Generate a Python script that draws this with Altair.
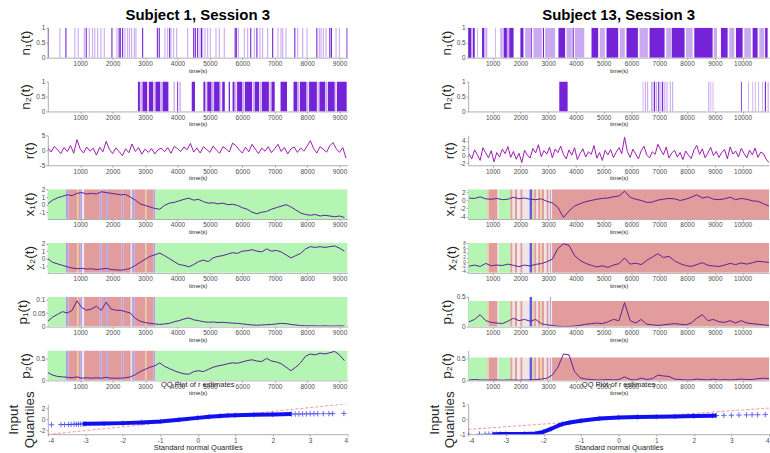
import altair as alt
import pandas as pd

FONT = "Liberation Sans"
LINE = "#5b2296"
RLINE = "#9d1cb0"
DARK = "#7423d8"
LIGHT = "#c9aaf0"
BAND = {"g": "#b4f5b4", "r": "#e29c9c", "l": "#b2a2e6", "w": "#efe7e7", "y": "#e6d2a8", "b": "#5b5be8"}

# ---------------- time grids ----------------
TL = list(range(0, 9151, 150))      # left smooth series
TLR = list(range(0, 9201, 100))     # left r(t)
TR = list(range(150, 10951, 200))   # right smooth series
TRR = list(range(150, 10951, 100))  # right r(t)

XT_L = [1000, 2000, 3000, 4000, 5000, 6000, 7000, 8000, 9000]
XT_R = [1000, 2000, 3000, 4000, 5000, 6000, 7000, 8000, 9000, 10000]
XDOM_L = [0, 9250]
XDOM_R = [120, 10950]

# ---------------- n1 / n2 ----------------
N1L_t = [0, 373, 559, 836, 939, 1124, 1186, 1279, 1382, 1450, 1536, 1639, 1742, 1978, 2133, 2200, 2236, 2308,
         2380, 2462, 2520, 2585, 2668, 2719, 2925, 3380, 3439, 3614, 3697, 3760, 3800, 3882, 3975, 4314, 4500,
         4551, 4623, 4695, 4740, 4777, 4849, 4931, 5013, 5188, 5291, 5445, 5780, 5816, 5878, 6063, 6166, 6260,
         6371, 6450, 6546, 6628, 6782, 6937, 7100, 7194, 7245, 7348, 7620, 7709, 7863, 7997, 8300, 8378, 8429,
         8500, 8584, 8700, 8750, 8892, 8995, 9232]
N1L_k = ["d", "l", "d", "l", "l", "l", "d", "l", "l", "l", "l", "l", "l", "d", "l", "d", "d", "d",
         "l", "l", "l", "l", "l", "l", "d", "d", "d", "l", "l", "d", "l", "l", "l", "l", "d",
         "d", "d", "l", "d", "l", "l", "l", "l", "l", "l", "l", "d", "d", "l", "l", "l", "d",
         "l", "d", "l", "l", "l", "d", "l", "l", "l", "l", "d", "l", "l", "l", "d", "l", "l",
         "l", "l", "d", "d", "l", "l", "d"]

N2L_s = [2780, 2850, 2920, 3070, 3120, 3260, 3320, 3480, 3540, 3880, 3990, 4060, 4440, 4800, 4870, 4920, 5060,
         5130, 5320, 5380, 5580, 5700, 5780, 5840, 6010, 6080, 6320, 6380, 6540, 6600, 6840, 6900, 7180, 7580,
         7720, 7780, 8000, 8060, 8320, 8380, 8580, 8640, 8870, 8920]
N2L_e = [2840, 2900, 3060, 3100, 3250, 3300, 3470, 3520, 3720, 3920, 4020, 4100, 4540, 4860, 4900, 5050, 5120,
         5300, 5350, 5460, 5620, 5760, 5820, 6000, 6060, 6300, 6360, 6520, 6580, 6820, 6880, 7000, 7380, 7700,
         7760, 7980, 8040, 8300, 8360, 8560, 8620, 8850, 8900, 9220]
N2L_k = ["d", "l", "d", "l", "d", "l", "d", "l", "d", "l", "d", "l", "d", "d", "l", "d", "l",
         "d", "l", "d", "d", "d", "l", "d", "l", "d", "l", "d", "l", "d", "l", "d", "d", "d",
         "l", "d", "l", "d", "l", "d", "l", "d", "l", "d"]

N1R_s = [117, 284, 440, 620, 740, 1090, 1275, 1395, 1515, 1600, 2000, 2170, 2370, 2470, 2810, 2890, 3370, 3660,
         3880, 3960, 4560, 4860, 5100, 5580, 5820, 6290, 6650, 7250, 7450, 7960, 8260, 8960, 9220, 9520, 9760,
         10060, 10360, 10600, 10810]
N1R_e = [236, 356, 470, 703, 810, 1120, 1360, 1515, 1600, 1755, 2110, 2350, 2410, 2770, 2850, 3250, 3610, 3850,
         3920, 4300, 4800, 5040, 5520, 5760, 6230, 6590, 7190, 7430, 7910, 8200, 8920, 9080, 9460, 9700, 10000,
         10300, 10540, 10780, 10900]
N1R_k = ["d", "d", "l", "d", "l", "l", "l", "d", "l", "d", "d", "l", "d", "l", "d", "l", "d", "l",
         "d", "l", "d", "l", "d", "l", "d", "l", "d", "l", "d", "l", "d", "l", "d", "l", "d",
         "l", "d", "l", "d"]

N2R_s = [3400, 6400, 6480, 6560, 6700, 6800, 6880, 6960, 7040, 7100, 7180, 7260, 7380, 7460, 8760, 8840, 8920,
         9940, 10200, 10350, 10440, 10560, 10700, 10800, 10900]
N2R_e = [3700, 6430, 6520, 6600, 6760, 6850, 6920, 7000, 7080, 7140, 7220, 7300, 7420, 7500, 8800, 8870, 8950,
         9970, 10230, 10380, 10470, 10590, 10730, 10840, 10940]
N2R_k = ["d", "l", "l", "l", "l", "d", "l", "d", "l", "d", "l", "l", "l", "l", "l", "l", "l",
         "d", "l", "l", "l", "l", "l", "d", "l"]

# ---------------- r(t) ----------------
R_L = [0.8, -0.6, 1.3, 0.2, -1.1, 0.9, -0.4, 1.6, -1.0, 3.6,
       0.4, -0.9, 1.1, -0.3, 0.7, -1.6, 1.0, -0.5, 3.0, 0.3,
       -1.1, 0.8, -0.4, -1.8, 0.5, -0.8, 2.1, -0.4, 0.9, -1.3,
       0.4, -0.7, 0.6, -1.2, 0.2, 0.7, -0.5, 0.9, -1.0, 1.3,
       0.6, -0.4, 1.1, 0.2, 2.3, -0.6, 0.8, -0.9, 1.2, 0.3,
       -0.7, 1.4, 0.1, -1.0, 1.2, 0.5, -0.6, 2.4, 1.6, 0.2,
       -0.9, 1.0, -0.5, 2.0, 0.4, -1.1, 0.7, -0.3, 1.2, -0.8,
       0.6, 2.0, -0.4, 0.9, -1.2, 0.5, 1.1, -0.7, 0.8, -0.3,
       1.4, 3.2, 0.6, -0.9, 1.2, 0.3, -0.6, 1.5, 2.6, 0.5,
       -0.7, 0.9, -2.6]
R_R = [0.5, -0.8, 1.6, 0.3, -1.2, 2.2, 0.8, -0.5, 1.4, -1.6,
       0.9, -0.3, 1.8, 0.6, 2.5, -0.4, 1.2, -0.9, 0.7, -1.8,
       1.5, 0.2, -0.6, 2.0, 0.8, 3.0, -0.2, 1.4, 0.5, 2.3,
       -0.5, 1.8, 0.9, 2.6, 0.4, -0.8, 1.6, 0.2, 2.2, -1.0,
       0.6, 1.9, -0.3, 1.1, 0.4, 2.8, -0.6, 0.9, -1.2, 1.5,
       0.3, 1.7, -0.5, 1.0, 2.2, 0.6, 5.0, 1.2, -0.4, 1.8,
       0.5, -0.8, 1.4, 2.6, 0.2, -0.5, 1.1, 0.4, 3.1, 1.6,
       0.3, 2.4, -0.6, 0.8, 1.5, -0.3, 0.9, -1.0, 1.3, 0.2,
       -0.7, 1.6, 2.8, 0.4, 1.9, -0.5, 0.8, 2.3, 0.1, 1.2,
       -0.4, 0.9, 1.7, -0.8, 2.4, 0.5, 1.3, -0.3, 2.0, 0.7,
       -0.5, 1.5, 0.3, 2.1, -0.4, 1.0, 0.6, -0.9, -1.8]

# ---------------- state series ----------------
X1_L = [0.1, 0.6, 0.9, 1.1, 1.3, 1.2, 1.5, 1.6, 1.4, 1.5, 1.4, 1.7, 1.6, 1.5, 1.4, 1.3, 1.35, 1.0, 0.6, 0.1,
        -0.1, -0.3, -0.5, -0.6, -0.1, 0.2, 0.3, 0.5, 0.7, 0.85, 0.6, 0.7, 0.4, 0.2, 0.25, 0.1, 0.2, 0.0, 0.05, -0.1,
        -0.4, -0.6, -1.0, -1.2, -1.0, -0.9, -0.6, -0.4, -0.2, 0.0, -0.3, -0.7, -1.1, -1.3, -1.4, -1.3, -1.5, -1.4,
        -1.5, -1.6, -1.5, -1.7]
X2_L = [0.0, -0.5, -0.7, -0.9, -1.1, -1.25, -1.35, -1.3, -1.4, -1.35, -1.45, -1.4, -1.3, -1.45, -1.5, -1.55,
        -1.45, -1.3, -0.9, -0.5, -0.1, 0.3, 0.5, 0.75, 0.4, 0.0, -0.4, -0.8, -0.9, -1.1, -0.8, -0.4, -0.2, -0.4,
        0.1, 0.3, 0.4, 0.6, 0.8, 0.7, 1.0, 1.05, 1.2, 1.0, 0.9, 1.3, 1.0, 1.1, 0.9, 0.5, 0.1, 0.4, 0.7, 1.3, 1.6,
        1.5, 1.6, 1.5, 1.6, 1.7, 1.4, 1.0]
P1_L = [0.02, 0.035, 0.045, 0.055, 0.05, 0.06, 0.095, 0.07, 0.06, 0.065, 0.075, 0.06, 0.09, 0.065, 0.06, 0.06,
        0.055, 0.05, 0.03, 0.02, 0.015, 0.012, 0.01, 0.008, 0.01, 0.012, 0.018, 0.022, 0.028, 0.032, 0.025, 0.022,
        0.018, 0.016, 0.017, 0.015, 0.016, 0.014, 0.013, 0.012, 0.01, 0.008, 0.006, 0.005, 0.006, 0.007, 0.008,
        0.01, 0.012, 0.011, 0.008, 0.006, 0.004, 0.003, 0.003, 0.003, 0.002, 0.003, 0.002, 0.002, 0.003, 0.002]
P2_L = [0.18, 0.12, 0.09, 0.08, 0.07, 0.06, 0.08, 0.05, 0.06, 0.05, 0.06, 0.05, 0.07, 0.05, 0.05, 0.05, 0.06,
        0.08, 0.13, 0.2, 0.25, 0.3, 0.33, 0.4, 0.32, 0.27, 0.22, 0.18, 0.15, 0.14, 0.2, 0.22, 0.2, 0.25, 0.3, 0.33,
        0.35, 0.38, 0.4, 0.39, 0.42, 0.45, 0.47, 0.44, 0.43, 0.5, 0.44, 0.42, 0.38, 0.3, 0.22, 0.3, 0.4, 0.55, 0.6,
        0.58, 0.62, 0.6, 0.63, 0.66, 0.58, 0.45]

X1_R = [0.6, 0.5, 0.9, 0.4, 0.3, 0.5, 0.2, 0.3, 0.8, 0.4, 0.6, 0.3, 0.2, 0.4, -0.2, -0.6, -1.7, -4.2, -2.6, -1.4,
        -0.8, -0.3, 0.0, 0.3, 0.5, 0.6, 0.9, 1.1, 2.3, 0.8, 0.3, 0.0, -0.5, -0.4, 0.1, 0.3, 0.5, 0.4, 0.0, 0.3,
        0.8, 1.4, 0.6, 0.9, 0.3, 0.2, 0.4, 0.8, 0.2, 0.5, 0.3, -0.1, -0.2, -0.8, -1.4]
X2_R = [-1.7, -1.2, -1.8, -0.5, -1.5, -1.2, -1.4, -0.8, -1.3, -1.9, -1.2, -1.6, -0.9, -0.6, 0.2, 1.3, 5.8, 7.8,
        7.2, 2.8, 0.8, -0.5, -1.3, -2.0, -1.5, -2.2, -1.2, -0.6, 1.8, -0.8, -0.4, -1.0, 0.8, 2.2, 3.6, 2.0, 2.5,
        0.6, -0.6, -1.4, -1.8, -1.0, -0.2, -1.3, -1.6, -1.8, -1.2, -0.5, -1.0, -0.3, -0.8, -0.2, 0.4, 0.2, -0.1]
P1_R = [0.08, 0.12, 0.2, 0.1, 0.07, 0.06, 0.05, 0.09, 0.14, 0.1, 0.12, 0.09, 0.12, 0.05, 0.03, 0.02, 0.005,
        0.002, 0.003, 0.01, 0.02, 0.04, 0.05, 0.06, 0.05, 0.08, 0.12, 0.1, 0.4, 0.1, 0.06, 0.12, 0.04, 0.03, 0.02,
        0.03, 0.04, 0.05, 0.04, 0.03, 0.06, 0.14, 0.2, 0.1, 0.12, 0.08, 0.07, 0.1, 0.06, 0.1, 0.06, 0.05, 0.04,
        0.03, 0.02]
P2_R = [0.01, 0.02, 0.01, 0.01, 0.005, 0.01, 0.005, 0.01, 0.01, 0.005, 0.01, 0.01, 0.02, 0.03, 0.05, 0.12, 0.3,
        0.6, 0.58, 0.2, 0.06, 0.03, 0.02, 0.01, 0.01, 0.02, 0.01, 0.02, 0.08, 0.02, 0.01, 0.05, 0.02, 0.04, 0.12,
        0.1, 0.09, 0.03, 0.02, 0.01, 0.01, 0.03, 0.02, 0.01, 0.03, 0.01, 0.02, 0.01, 0.02, 0.03, 0.02, 0.02, 0.04,
        0.05, 0.04]

# ---------------- background state bands ----------------
BL_s = [0, 560, 640, 900, 940, 1000, 1060, 1120, 1600, 1660, 1800, 1860, 2280, 2330, 2560, 2600, 2680, 3000,
        3040, 3260, 3320]
BL_e = [560, 640, 900, 940, 1000, 1060, 1120, 1600, 1660, 1800, 1860, 2280, 2330, 2560, 2600, 2680, 3000, 3040,
        3260, 3320, 9250]
BL_k = ["g", "l", "r", "y", "r", "l", "w", "r", "l", "r", "l", "r", "l", "r", "w", "l", "r", "y", "r", "l", "g"]

BR_s = [120, 800, 860, 1180, 1220, 1640, 1720, 1800, 1880, 2000, 2080, 2330, 2420, 2500, 2580, 2640, 2720,
        2780, 2860, 2940, 3020, 3060, 3100, 3140]
BR_e = [800, 860, 1180, 1220, 1640, 1720, 1800, 1880, 2000, 2080, 2330, 2420, 2500, 2580, 2640, 2720, 2780,
        2860, 2940, 3020, 3060, 3100, 3140, 10950]
BR_k = ["g", "y", "r", "w", "g", "r", "w", "r", "w", "r", "w", "b", "y", "r", "w", "r", "y", "r", "w", "r",
        "w", "l", "w", "r"]

# ---------------- QQ plots ----------------
QQL_q = [-3.9, -3.65, -3.55, -3.45, -3.38, -3.3, -3.24, -3.18, -3.12, -3.06, -3.0, -2.5, -2.0, -1.5, -1.0, -0.5,
         0.0, 0.3, 0.6, 0.8, 1.0, 1.5, 2.0, 2.5, 2.6, 2.7, 2.8, 2.9, 3.0, 3.1, 3.2, 3.35, 3.5, 3.6, 3.9]
QQL_v = [-1.0, -0.97, -0.96, -0.95, -0.93, -0.9, -0.89, -0.88, -0.86, -0.84, -0.82, -0.76, -0.7, -0.58, -0.4,
         -0.1, 0.25, 0.45, 0.6, 0.68, 0.72, 0.8, 0.87, 0.93, 0.94, 0.95, 0.96, 0.97, 0.98, 0.99, 1.0, 1.0, 1.01,
         1.02, 1.05]
QQL_line = [-2.75, 2.8]
QQR_q = [-4.0, -3.7, -3.55, -3.45, -3.35, -3.25, -3.15, -3.0, -2.5, -2.2, -2.0, -1.8, -1.6, -1.5, -1.3, -1.0,
         -0.5, 0.0, 0.5, 1.0, 1.5, 2.0, 2.5, 2.6, 2.8, 3.0, 3.2, 3.4, 3.55, 3.7, 3.9]
QQR_v = [-1.0, -1.0, -1.0, -1.0, -1.0, -1.0, -0.99, -0.99, -0.98, -0.95, -0.85, -0.65, -0.42, -0.33, -0.22, -0.1,
         0.05, 0.12, 0.15, 0.17, 0.19, 0.21, 0.24, 0.25, 0.26, 0.27, 0.28, 0.29, 0.3, 0.3, 0.31]
QQR_line = [-0.68, 0.75]

# ---------------- helpers ----------------
LBL = "''+datum.value"


def scales(xdom, ydom):
    return (alt.Scale(domain=xdom, nice=False, zero=False),
            alt.Scale(domain=ydom, nice=False, zero=False))


def axes(xticks, yticks, ytitle, xtitle="time(s)", xtfs=6, ylfs=6.5):
    xa = alt.Axis(values=xticks, title=xtitle, labelExpr=LBL, titleFontSize=xtfs, labelOverlap=False)
    ya = alt.Axis(values=yticks, title=ytitle, labelExpr=LBL, labelOverlap=False, labelFontSize=ylfs)
    return xa, ya


def kcolor():
    return alt.Color("k:N", scale=alt.Scale(domain=["d", "l"], range=[DARK, LIGHT]), legend=None)


def n_panel(xdom, xticks, ytitle, spans=None, events=None, title=None, w=301):
    xs, ys = scales(xdom, [0, 1])
    xa, ya = axes(xticks, [0, 0.5, 1], ytitle)
    layers = []
    if spans is not None:
        s, e, k = spans
        df = pd.DataFrame({"s": s, "e": e, "k": k, "lo": 0, "hi": 1})
        layers.append(alt.Chart(df).mark_rect(clip=True).encode(
            x=alt.X("s:Q", scale=xs, axis=xa), x2="e:Q",
            y=alt.Y("lo:Q", scale=ys, axis=ya), y2="hi:Q", color=kcolor()))
    if events is not None:
        t, k = events
        df = pd.DataFrame({"s": t, "k": k, "lo": 0, "hi": 1})
        layers.append(alt.Chart(df).mark_rule(strokeWidth=1.1, clip=True).encode(
            x=alt.X("s:Q", scale=xs, axis=xa),
            y=alt.Y("lo:Q", scale=ys, axis=ya), y2="hi:Q", color=kcolor()))
    ch = alt.layer(*layers).properties(width=w, height=30)
    if title:
        ch = ch.properties(title=alt.TitleParams(title, fontSize=15, font=FONT, fontWeight="bold",
                                                 anchor="middle", offset=2, color="#000000"))
    return ch


def r_panel(xdom, xticks, t, v, ydom, yticks, w=301):
    xs, ys = scales(xdom, ydom)
    xa, ya = axes(xticks, yticks, "r(t)")
    df = pd.DataFrame({"t": t, "v": v})
    return alt.Chart(df).mark_line(color=RLINE, strokeWidth=1, clip=True).encode(
        x=alt.X("t:Q", scale=xs, axis=xa), y=alt.Y("v:Q", scale=ys, axis=ya)).properties(width=w, height=30)


def s_panel(xdom, xticks, bands, t, v, ydom, yticks, ytitle, band_hi=None, stripe_hi=None, w=301, ylfs=6.5):
    xs, ys = scales(xdom, ydom)
    xa, ya = axes(xticks, yticks, ytitle, ylfs=ylfs)
    s, e, k = bands
    hi_norm = ydom[1] if band_hi is None else band_hi
    hi_str = ydom[1] if stripe_hi is None else stripe_hi
    dfb = pd.DataFrame({"s": s, "e": e, "col": [BAND[x] for x in k],
                        "lo": ydom[0], "hi": [hi_str if x in ("b", "l") else hi_norm for x in k]})
    dfl = pd.DataFrame({"t": t, "v": v})
    bands_l = alt.Chart(dfb).mark_rect(clip=True).encode(
        x=alt.X("s:Q", scale=xs, axis=xa), x2="e:Q",
        y=alt.Y("lo:Q", scale=ys, axis=ya), y2="hi:Q", color=alt.Color("col:N", scale=None))
    line_l = alt.Chart(dfl).mark_line(color=LINE, strokeWidth=1, clip=True).encode(
        x=alt.X("t:Q", scale=xs, axis=xa), y=alt.Y("v:Q", scale=ys, axis=ya))
    return alt.layer(bands_l, line_l).properties(width=w, height=30)


def qq_panel(q, v, line_y, ydom, yticks, band_range, w=301):
    xs, ys = scales([-4, 4], ydom)
    xa, ya = axes([-4, -3, -2, -1, 0, 1, 2, 3, 4], yticks, ["Input", "Quantiles"],
                  xtitle="Standard normal Quantiles", xtfs=7.5)
    df = pd.DataFrame({"q": q, "v": v})
    dband = df[(df.q >= band_range[0]) & (df.q <= band_range[1])]
    dline = pd.DataFrame({"q": [-4, 4], "v": line_y})
    ref = alt.Chart(dline).mark_line(color="#ff4040", strokeDash=[3, 2], strokeWidth=0.8, opacity=0.7,
                                     clip=True).encode(
        x=alt.X("q:Q", scale=xs, axis=xa), y=alt.Y("v:Q", scale=ys, axis=ya))
    band = alt.Chart(dband).mark_line(color="#1010f0", strokeWidth=4, clip=True).encode(
        x=alt.X("q:Q", scale=xs, axis=xa), y=alt.Y("v:Q", scale=ys, axis=ya))
    pts = alt.Chart(df).mark_point(shape="M-1,0L1,0M0,-1L0,1", filled=False, size=30, strokeWidth=0.9,
                                   color="#1010f0", clip=True).encode(
        x=alt.X("q:Q", scale=xs, axis=xa), y=alt.Y("v:Q", scale=ys, axis=ya))
    return alt.layer(ref, band, pts).properties(
        width=w, height=30,
        title=alt.TitleParams("QQ Plot of r estimates", fontSize=7.5, font=FONT, fontWeight="normal",
                              anchor="middle", offset=2, color="#262626"))


WL, WR = 301, 302

left = [
    n_panel(XDOM_L, XT_L, "n\u2081(t)", events=(N1L_t, N1L_k), title="Subject 1, Session 3", w=WL),
    n_panel(XDOM_L, XT_L, "n\u2082(t)", spans=(N2L_s, N2L_e, N2L_k), w=WL),
    r_panel(XDOM_L, XT_L, TLR, R_L, [-5, 5], [-5, 0, 5], w=WL),
    s_panel(XDOM_L, XT_L, (BL_s, BL_e, BL_k), TL, X1_L, [-1.9, 2.05], [-1, 0, 1, 2], "x\u2081(t)", w=WL),
    s_panel(XDOM_L, XT_L, (BL_s, BL_e, BL_k), TL, X2_L, [-1.9, 2.1], [-1, 0, 1, 2], "x\u2082(t)", w=WL),
    s_panel(XDOM_L, XT_L, (BL_s, BL_e, BL_k), TL, P1_L, [0, 0.11], [0, 0.05, 0.1], "p\u2081(t)", w=WL),
    s_panel(XDOM_L, XT_L, (BL_s, BL_e, BL_k), TL, P2_L, [0, 0.68], [0, 0.5], "p\u2082(t)", w=WL),
    qq_panel(QQL_q, QQL_v, QQL_line, [-2.7, 2.7], [-2, 0, 2], [-3.06, 2.5], w=WL),
]

right = [
    n_panel(XDOM_R, XT_R, "n\u2081(t)", spans=(N1R_s, N1R_e, N1R_k), title="Subject 13, Session 3", w=WR),
    n_panel(XDOM_R, XT_R, "n\u2082(t)", spans=(N2R_s, N2R_e, N2R_k), w=WR),
    r_panel(XDOM_R, XT_R, TRR, R_R, [-2.5, 5.5], [-2, 0, 2, 4], w=WR),
    s_panel(XDOM_R, XT_R, (BR_s, BR_e, BR_k), TR, X1_R, [-4.6, 2.8], [-4, -2, 0, 2], "x\u2081(t)", w=WR),
    s_panel(XDOM_R, XT_R, (BR_s, BR_e, BR_k), TR, X2_R, [-4.5, 8.2], [-4, -2, 0, 2, 4, 6, 8], "x\u2082(t)",
            w=WR, ylfs=4.5),
    s_panel(XDOM_R, XT_R, (BR_s, BR_e, BR_k), TR, P1_R, [0, 0.5], [0, 0.5], "p\u2081(t)",
            band_hi=0.43, stripe_hi=0.5, w=WR),
    s_panel(XDOM_R, XT_R, (BR_s, BR_e, BR_k), TR, P2_R, [0, 0.68], [0, 0.5], "p\u2082(t)",
            band_hi=0.52, stripe_hi=0.52, w=WR),
    qq_panel(QQR_q, QQR_v, QQR_line, [-1, 1], [-1, 0, 1], [-3.35, 2.6], w=WR),
]

cells = []
for a, b in zip(left, right):
    cells.extend([a, b])

chart = alt.concat(*cells, columns=2, spacing={"row": 24, "column": 121}, bounds="flush").properties(
    padding={"left": 6, "top": 7, "right": 0, "bottom": 0},
    background="white",
).configure_axis(
    labelFont=FONT, titleFont=FONT, labelFontSize=6.5, labelColor="#4d4d4d", domainColor="#9a9a9a",
    tickColor="#9a9a9a", tickSize=2, grid=False, labelPadding=1, titlePadding=2, titleFontWeight="normal",
    titleColor="#262626", domainWidth=0.8, tickWidth=0.8,
).configure_axisX(titlePadding=0).configure_axisY(titleFontSize=13.5, titlePadding=3).configure_view(stroke=None)

chart.save("out.html", embed_options={"renderer": "svg", "actions": False})
